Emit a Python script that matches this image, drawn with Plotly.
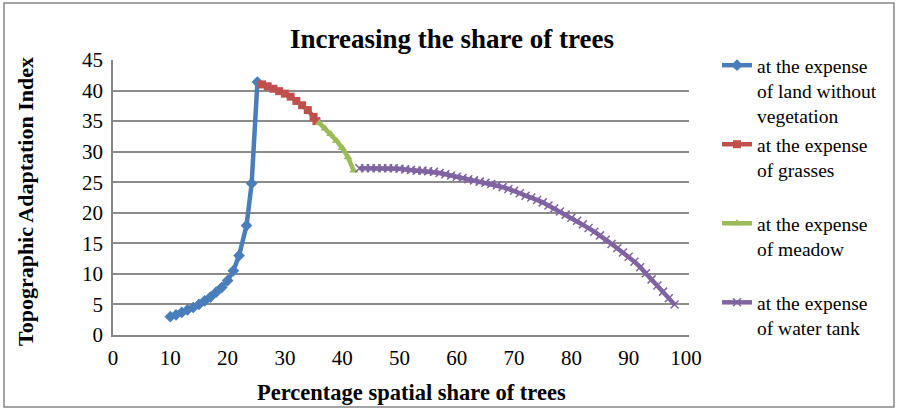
import plotly.graph_objects as go

# ---- data ----
land_x = [10, 11, 12, 13, 14, 15, 16, 17, 18, 19, 20, 21, 22, 23.3, 24.2, 25.2]
land_y = [3.0, 3.3, 3.7, 4.1, 4.5, 5.0, 5.6, 6.2, 7.0, 7.8, 8.9, 10.5, 13.0, 17.9, 24.8, 41.4]

grass_x = [26, 27, 28, 29, 30, 31, 32, 33, 34, 35, 35.5]
grass_y = [41.0, 40.7, 40.3, 39.9, 39.5, 39.0, 38.3, 37.6, 36.8, 35.7, 35.0]

meadow_x = [36, 37, 38, 39, 40, 41, 42]
meadow_y = [34.7, 33.8, 32.9, 31.8, 30.6, 29.1, 26.9]

water_x = list(range(43, 99))
water_y = [27.3, 27.3, 27.3, 27.3, 27.3, 27.3, 27.3, 27.2, 27.1, 27.0,
           26.9, 26.9, 26.8, 26.7, 26.5, 26.3, 26.1, 25.9, 25.7, 25.5,
           25.3, 25.1, 24.9, 24.7, 24.5, 24.2, 23.9, 23.6, 23.2, 22.8,
           22.5, 22.1, 21.7, 21.2, 20.7, 20.2, 19.7, 19.2, 18.7, 18.1,
           17.5, 16.9, 16.3, 15.6, 14.9, 14.2, 13.5, 12.8, 12.0, 11.1,
           10.1, 9.1, 8.1, 7.1, 6.0, 5.0]

names = ["at the expense<br>of land without<br>vegetation",
         "at the expense<br>of grasses<br>&nbsp;",
         "at the expense<br>of meadow<br>&nbsp;",
         "at the expense<br>of water tank"]

y_ticks = [0, 5, 10, 15, 20, 25, 30, 35, 40, 45]
x_ticks = [0, 10, 20, 30, 40, 50, 60, 70, 80, 90, 100]

FONT = "Liberation Serif"

fig = go.Figure()
fig.add_trace(go.Scatter(x=land_x, y=land_y, name=names[0], mode="lines+markers",
                         line=dict(color="#4A7EBB", width=4.5),
                         marker=dict(symbol="diamond", size=9, color="#4A7EBB")))
fig.add_trace(go.Scatter(x=grass_x, y=grass_y, name=names[1], mode="lines+markers",
                         line=dict(color="#C0504D", width=4.5),
                         marker=dict(symbol="square", size=8, color="#C0504D")))
fig.add_trace(go.Scatter(x=meadow_x, y=meadow_y, name=names[2], mode="lines+markers",
                         line=dict(color="#9BBB59", width=4.5),
                         marker=dict(symbol="triangle-up", size=8, color="#9BBB59")))
fig.add_trace(go.Scatter(x=water_x, y=water_y, name=names[3], mode="lines+markers",
                         line=dict(color="#8064A2", width=4.5),
                         marker=dict(symbol="x-thin", size=8,
                                     line=dict(color="#8064A2", width=1.5))))

L, R, T, B = 113, 689, 60, 335
W, H = 899, 411
pw, ph = R - L, B - T


def px(x):
    return (x - L) / pw


def py(y):
    return (B - y) / ph


fig.update_layout(
    width=W, height=H,
    margin=dict(l=L, r=W - R, t=T, b=H - B),
    paper_bgcolor="white", plot_bgcolor="white",
    font=dict(family=FONT, size=20, color="black"),
    title=dict(text="<b>Increasing the share of trees</b>",
               font=dict(family=FONT, size=27, color="black"),
               x=452 / W, xref="container", xanchor="center",
               y=1 - 39 / H, yref="container", yanchor="middle"),
    showlegend=True,
    legend=dict(x=px(717), y=py(46), xanchor="left", yanchor="top",
                font=dict(family=FONT, size=19.5, color="black"), valign="top",
                bgcolor="rgba(0,0,0,0)", maxheight=400, tracegroupgap=0),
    xaxis=dict(range=[0, pw / 5.73], tickvals=x_ticks, showgrid=False,
               showline=True, linecolor="#868686", linewidth=1.5,
               ticks="", ticklabelstandoff=3, zeroline=False,
               tickfont=dict(family=FONT, size=21, color="black")),
    yaxis=dict(range=[0, 45], tickvals=y_ticks, showgrid=True,
               gridcolor="#8c8c8c", gridwidth=1.5,
               showline=True, linecolor="#868686", linewidth=1.5,
               ticks="", ticklabelstandoff=4, zeroline=False,
               tickfont=dict(family=FONT, size=21, color="black")),
    annotations=[
        dict(text="<b>Percentage spatial share of trees</b>", xref="paper", yref="paper",
             x=px(411), y=py(392), xanchor="center", yanchor="middle",
             showarrow=False, font=dict(family=FONT, size=22.5, color="black")),
        dict(text="<b>Topographic Adaptation Index</b>", xref="paper", yref="paper",
             x=px(25), y=py(202), xanchor="center", yanchor="middle",
             textangle=-90, showarrow=False,
             font=dict(family=FONT, size=22, color="black")),
    ],
    shapes=[dict(type="rect", xref="paper", yref="paper",
                 x0=px(4), x1=px(894), y0=py(407), y1=py(3),
                 line=dict(color="#868686", width=1.5), layer="below")],
)

fig.write_html("out.html", post_script="document.body.style.margin='0px';",
               config={"displayModeBar": False})
